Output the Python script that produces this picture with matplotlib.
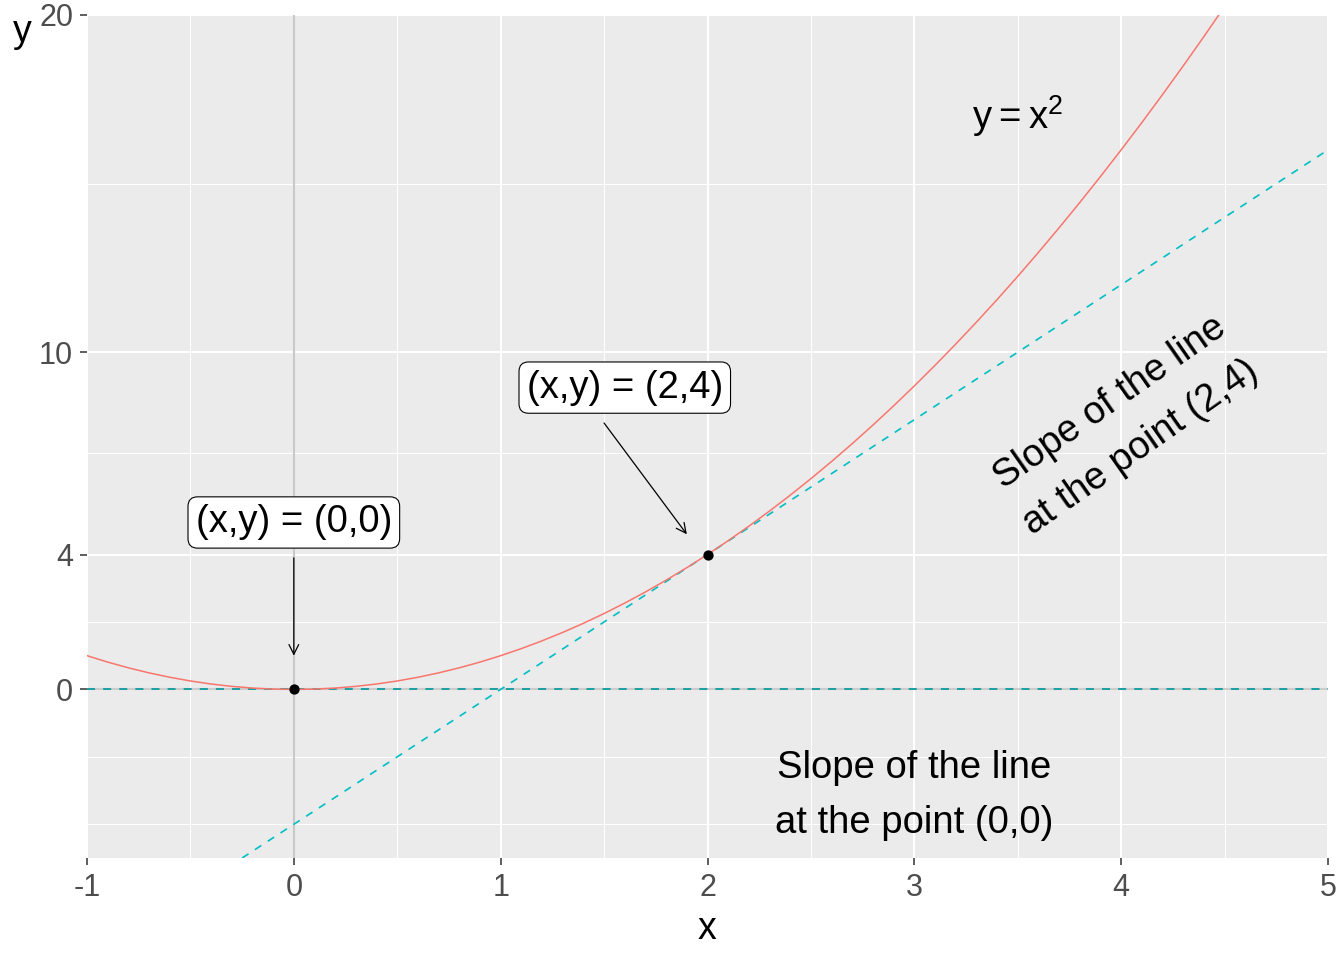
import matplotlib
matplotlib.use('Agg')
import matplotlib.pyplot as plt

plt.rcParams['font.family'] = ['Liberation Sans', 'DejaVu Sans']
plt.rcParams['lines.scale_dashes'] = False

# curve y = x^2
curve_x = [-1.0, -0.9, -0.8, -0.7, -0.6, -0.5, -0.4, -0.3, -0.2, -0.1,
           0.0, 0.1, 0.2, 0.3, 0.4, 0.5, 0.6, 0.7, 0.8, 0.9,
           1.0, 1.1, 1.2, 1.3, 1.4, 1.5, 1.6, 1.7, 1.8, 1.9,
           2.0, 2.1, 2.2, 2.3, 2.4, 2.5, 2.6, 2.7, 2.8, 2.9,
           3.0, 3.1, 3.2, 3.3, 3.4, 3.5, 3.6, 3.7, 3.8, 3.9,
           4.0, 4.1, 4.2, 4.3, 4.4, 4.5]
curve_y = [1.0, 0.81, 0.64, 0.49, 0.36, 0.25, 0.16, 0.09, 0.04, 0.01,
           0.0, 0.01, 0.04, 0.09, 0.16, 0.25, 0.36, 0.49, 0.64, 0.81,
           1.0, 1.21, 1.44, 1.69, 1.96, 2.25, 2.56, 2.89, 3.24, 3.61,
           4.0, 4.41, 4.84, 5.29, 5.76, 6.25, 6.76, 7.29, 7.84, 8.41,
           9.0, 9.61, 10.24, 10.89, 11.56, 12.25, 12.96, 13.69, 14.44, 15.21,
           16.0, 16.81, 17.64, 18.49, 19.36, 20.25]

# tangent line at (2,4)
tangent_x = [-0.25, 5.0]
tangent_y = [-5.0, 16.0]

# points
point_x = [0, 2]
point_y = [0, 4]

# labels and arrows
label_text = ['(x,y) = (0,0)', '(x,y) = (2,4)']
label_x = [0.0, 1.6]
label_y = [4.95, 8.95]
arrow_from = [(0.0, 3.9), (1.5, 7.9)]
arrow_to = [(0.0, 1.0), (1.9, 4.6)]

# text annotations
eq_text = r'$\mathregular{y = x^2}$'
eq_pos = (3.5, 17.0)
slope0_text = 'Slope of the line\nat the point (0,0)'
slope0_pos = (3.0, -3.15)
slope24_text = 'Slope of the line\nat the point (2,4)'
slope24_pos = (4.02, 7.85)

x_ticks = [-1, 0, 1, 2, 3, 4, 5]
x_minor = [-0.5, 0.5, 1.5, 2.5, 3.5, 4.5]
y_ticks = [0, 4, 10, 20]
y_minor = [-4, -2, 2, 7, 15]

W, H = 1344, 960
fig = plt.figure(figsize=(W / 100, H / 100), dpi=100)
ax = fig.add_axes([87 / W, 1 - 858 / H, (1328 - 87) / W, (858 - 15) / H])
ax.set_facecolor('#EBEBEB')
for s in ax.spines.values():
    s.set_visible(False)

ax.set_xlim(-1, 5)
ax.set_ylim(-5, 20)
ax.set_xticks(x_ticks)
ax.set_xticks(x_minor, minor=True)
ax.set_yticks(y_ticks)
ax.set_yticks(y_minor, minor=True)
ax.set_xticklabels([str(v) for v in x_ticks])
ax.set_yticklabels([str(v) for v in y_ticks])
ax.grid(which='major', color='white', lw=1.5)
ax.grid(which='minor', color='white', lw=0.75)
ax.set_axisbelow(True)
ax.tick_params(which='major', length=5, width=1.1, color='#333333',
               labelsize=22, labelcolor='#4D4D4D')
ax.tick_params(axis='x', which='major', pad=6)
ax.tick_params(axis='y', which='major', pad=5)
ax.tick_params(which='minor', length=0)

# reference lines
ax.axvline(0, color='#C9C9C9', lw=1.5, zorder=1.5)
ax.axhline(0, color='#CCCCCC', lw=1.5, zorder=1.5)
ax.axhline(0, color='#0E9C9F', lw=1.3, ls=(0, (5.8, 5.8)), zorder=1.6)

# tangent and curve
ax.plot(tangent_x, tangent_y, color='#00BFC4', lw=1.2, ls=(0, (5.5, 5.5)), zorder=2)
ax.plot(curve_x, curve_y, color='#F8766D', lw=1.1, zorder=2.1)
ax.scatter(point_x, point_y, s=55, color='black', zorder=3, linewidths=0)

for t, x, y in zip(label_text, label_x, label_y):
    ax.text(x, y, t, ha='center', va='center', fontsize=27.5, color='black', zorder=4,
            bbox=dict(boxstyle='round,pad=0.2,rounding_size=0.25', fc='white',
                      ec='black', lw=0.8))
for a, b in zip(arrow_from, arrow_to):
    ax.annotate('', xy=b, xytext=a,
                arrowprops=dict(arrowstyle='->,head_length=0.5,head_width=0.25',
                                mutation_scale=14, lw=0.9, color='black',
                                shrinkA=0, shrinkB=0), zorder=4)

ax.text(*eq_pos, eq_text, ha='center', va='center', fontsize=27.5, color='black')
ax.text(*slope0_pos, slope0_text, ha='center', va='center', fontsize=27.5,
        color='black', linespacing=1.68, multialignment='center')
ax.text(*slope24_pos, slope24_text, ha='center', va='center', fontsize=27.5,
        color='black', rotation=35, rotation_mode='anchor', linespacing=1.68,
        multialignment='center')

fig.text(22 / W, 1 - 42 / H, 'y', ha='center', va='baseline', fontsize=27, color='black')
fig.text(707 / W, 1 - 939 / H, 'x', ha='center', va='baseline', fontsize=27, color='black')

fig.savefig('out.png', dpi=100, facecolor='white')
